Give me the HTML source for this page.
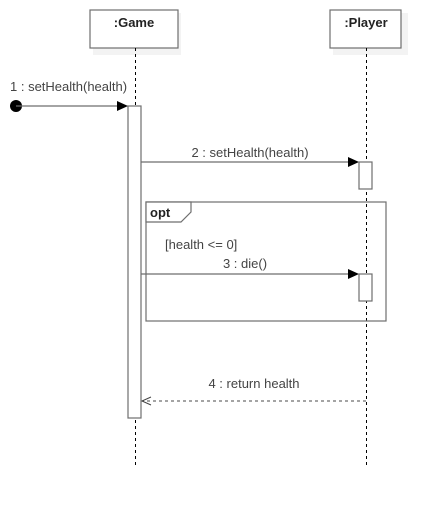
<!DOCTYPE html>
<html><head><style>body{margin:0;background:#fff}svg{display:block}</style></head><body>
<svg width="441" height="506" viewBox="0 0 441 506" xmlns="http://www.w3.org/2000/svg" font-family="Liberation Sans, sans-serif" font-size="13">
<rect x="93" y="13" width="88" height="42" fill="#f3f3f3"/>
<rect x="90" y="10" width="88" height="38" fill="#fff" stroke="#6e6e6e" stroke-width="1.2"/>
<text x="134" y="27" text-anchor="middle" font-weight="bold" fill="#222">:Game</text>
<rect x="333" y="13" width="75" height="42" fill="#f3f3f3"/>
<rect x="330" y="10" width="71" height="38" fill="#fff" stroke="#6e6e6e" stroke-width="1.2"/>
<text x="366" y="27" text-anchor="middle" font-weight="bold" fill="#222">:Player</text>
<line x1="135.5" y1="48" x2="135.5" y2="466" stroke="#000" stroke-dasharray="3,3"/>
<line x1="366.5" y1="48" x2="366.5" y2="466" stroke="#000" stroke-dasharray="3,3"/>
<rect x="128" y="106" width="13" height="312" fill="#fff" stroke="#6e6e6e" stroke-width="1.2"/>
<circle cx="16" cy="106" r="6" fill="#000"/>
<line x1="16" y1="106" x2="118" y2="106" stroke="#6e6e6e" stroke-width="1.2"/>
<polygon points="128,106 117,101 117,111" fill="#000"/>
<text x="10" y="91" fill="#444">1 : setHealth(health)</text>
<line x1="141" y1="162" x2="349" y2="162" stroke="#6e6e6e" stroke-width="1.2"/>
<polygon points="359,162 348,157 348,167" fill="#000"/>
<text x="250" y="157" text-anchor="middle" fill="#444">2 : setHealth(health)</text>
<rect x="359" y="162" width="13" height="27" fill="#fff" stroke="#6e6e6e" stroke-width="1.2"/>
<rect x="146" y="202" width="240" height="119" fill="none" stroke="#6e6e6e" stroke-width="1.2"/>
<polygon points="146,202 191,202 191,212 181,222 146,222" fill="#fff" stroke="#6e6e6e" stroke-width="1.2"/>
<text x="150" y="217" font-weight="bold" fill="#222">opt</text>
<text x="165" y="249" fill="#444">[health &lt;= 0]</text>
<text x="245" y="268" text-anchor="middle" fill="#444">3 : die()</text>
<line x1="141" y1="274" x2="349" y2="274" stroke="#6e6e6e" stroke-width="1.2"/>
<polygon points="359,274 348,269 348,279" fill="#000"/>
<rect x="359" y="274" width="13" height="27" fill="#fff" stroke="#6e6e6e" stroke-width="1.2"/>
<text x="254" y="388" text-anchor="middle" fill="#444">4 : return health</text>
<line x1="366" y1="401" x2="142" y2="401" stroke="#6e6e6e" stroke-width="1.2" stroke-dasharray="3,3"/>
<polyline points="151,397 142,401 151,405" fill="none" stroke="#444" stroke-width="1"/>
</svg>
</body></html>
